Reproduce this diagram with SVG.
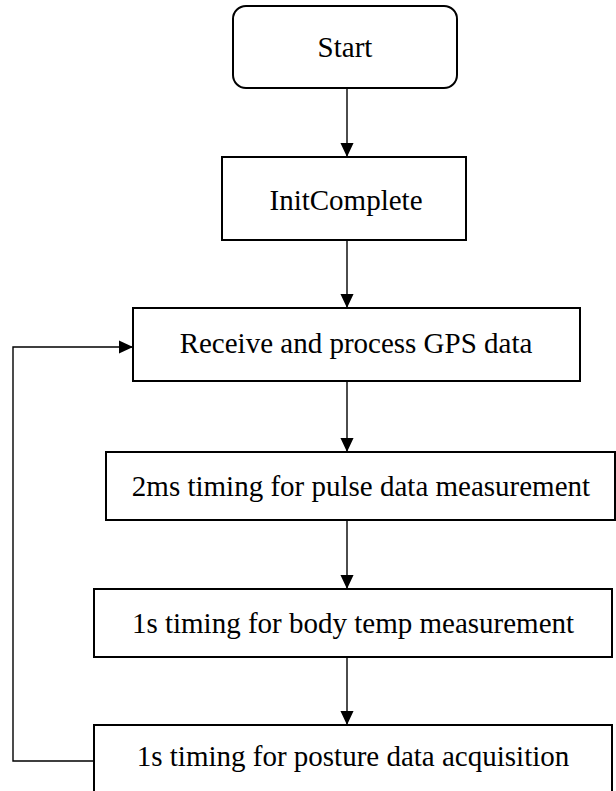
<svg xmlns="http://www.w3.org/2000/svg" width="616" height="791" viewBox="0 0 616 791">
<style>
.box{fill:#fff;stroke:#000;stroke-width:2}
.lbl{font-family:"Liberation Serif","Times New Roman",serif;font-size:29px;fill:#000;text-anchor:middle}
.con{fill:none;stroke:#000;stroke-width:1.4}
</style>
<defs>
<marker id="arr" markerWidth="14" markerHeight="14" viewBox="0 0 15 14" refX="15" refY="7" orient="auto" markerUnits="userSpaceOnUse">
<path d="M0,0 L15,7 L0,14 Z" fill="#000"/>
</marker>
</defs>
<rect width="616" height="791" fill="#fff"/>
<g id="connectors">
<line class="con" x1="347" y1="88" x2="347" y2="157" marker-end="url(#arr)"/>
<line class="con" x1="347" y1="240" x2="347" y2="308" marker-end="url(#arr)"/>
<line class="con" x1="347" y1="381" x2="347" y2="452" marker-end="url(#arr)"/>
<line class="con" x1="347" y1="520" x2="347" y2="589" marker-end="url(#arr)"/>
<line class="con" x1="347" y1="657" x2="347" y2="725" marker-end="url(#arr)"/>
<polyline class="con" points="94,761 13,761 13,347 133,347" marker-end="url(#arr)"/>
</g>
<g id="start">
<rect class="box" x="233" y="6" width="224" height="82" rx="13"/>
<text class="lbl" x="345" y="57">Start</text>
</g>
<g id="init">
<rect class="box" x="222" y="157" width="244" height="83"/>
<text class="lbl" x="346" y="210">InitComplete</text>
</g>
<g id="gps">
<rect class="box" x="133" y="308" width="447" height="73"/>
<text class="lbl" x="356" y="353">Receive and process GPS data</text>
</g>
<g id="pulse">
<rect class="box" x="106" y="452" width="509" height="68"/>
<text class="lbl" x="361" y="496">2ms timing for pulse data measurement</text>
</g>
<g id="temp">
<rect class="box" x="94" y="589" width="518" height="68"/>
<text class="lbl" x="353" y="633">1s timing for body temp measurement</text>
</g>
<g id="posture">
<rect class="box" x="94" y="725" width="518" height="80"/>
<text class="lbl" x="353" y="766">1s timing for posture data acquisition</text>
</g>
</svg>
